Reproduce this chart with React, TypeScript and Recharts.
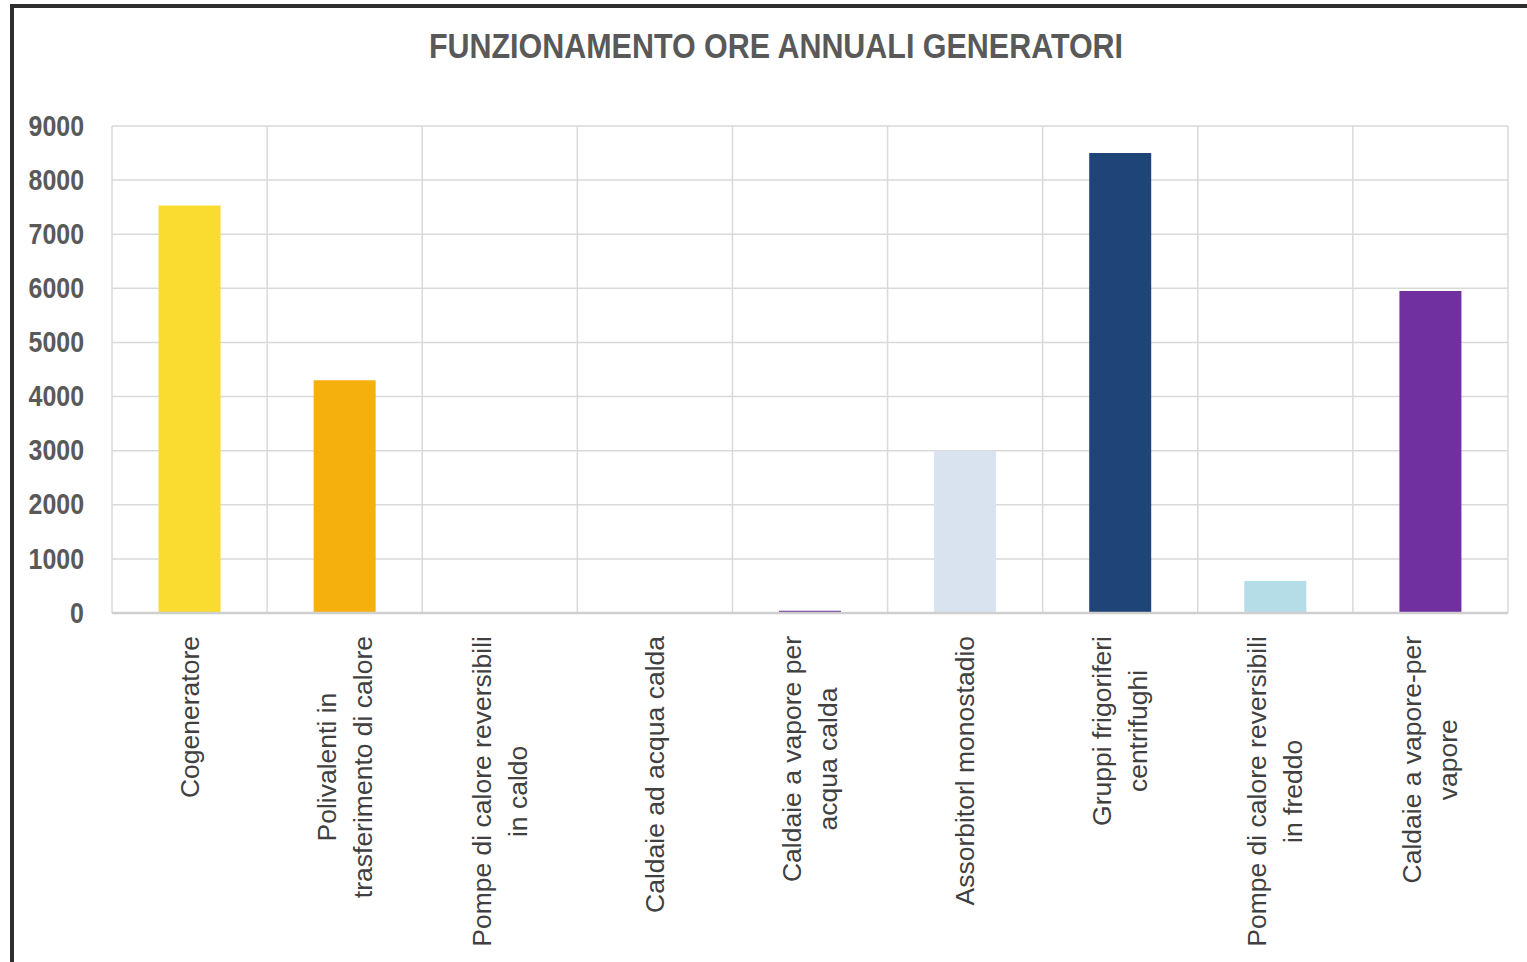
import React from 'react';
import { BarChart, Bar, XAxis, YAxis, CartesianGrid, Cell } from 'recharts';

const categories: string[] = [
  'Cogeneratore',
  'Polivalenti in\ntrasferimento di calore',
  'Pompe di calore reversibili\nin caldo',
  'Caldaie ad acqua calda',
  'Caldaie a vapore per\nacqua calda',
  'Assorbitorl monostadio',
  'Gruppi frigoriferi\ncentrifughi',
  'Pompe di calore reversibili\nin freddo',
  'Caldaie a vapore-per\nvapore',
];
const hours: number[] = [7530, 4300, 0, 0, 40, 3000, 8500, 590, 5950];
const barColors: string[] = ['#F9DC2F', '#F5B00E', '#7030A0', '#7030A0', '#6E3B9E', '#D9E3F0', '#1F4477', '#B5DDE8', '#7030A0'];
const yTicks: number[] = [0, 1000, 2000, 3000, 4000, 5000, 6000, 7000, 8000, 9000];
const title = 'FUNZIONAMENTO ORE ANNUALI GENERATORI';

const data = categories.map((name, i) => ({ name, value: hours[i] }));

const LABEL_FONT = '26.5px "Liberation Sans", Arial, sans-serif';
let ctx: CanvasRenderingContext2D | null = null;
function measure(t: string): number {
  if (!ctx) {
    const c = document.createElement('canvas');
    ctx = c.getContext('2d');
  }
  if (!ctx) return t.length * 13;
  ctx.font = LABEL_FONT;
  return ctx.measureText(t).width;
}

const XTick = (props: any) => {
  const { x, y, payload } = props;
  const lines: string[] = String(payload.value).split('\n');
  const maxW = Math.max(...lines.map(measure));
  const lh = 36;
  const n = lines.length;
  return (
    <g transform={`translate(${x},${y + 23}) rotate(-90)`}>
      {lines.map((l, i) => (
        <text
          key={i}
          x={-maxW / 2}
          y={(i - (n - 1) / 2) * lh}
          textAnchor="middle"
          dominantBaseline="central"
          fill="#404040"
          style={{ font: LABEL_FONT }}
        >
          {l}
        </text>
      ))}
    </g>
  );
};

const YTick = (props: any) => {
  const { x, y, payload } = props;
  return (
    <g transform={`translate(${x},${y}) scale(0.86,1)`}>
      <text
        x={0}
        y={0}
        textAnchor="end"
        dominantBaseline="central"
        fill="#595959"
        style={{ font: 'bold 29px "Liberation Sans", Arial, sans-serif' }}
      >
        {payload.value}
      </text>
    </g>
  );
};

export default function App() {
  const n = categories.length;
  return (
    <div style={{ position: 'absolute', left: 0, top: 0, width: 1527, height: 962, overflow: 'hidden', background: '#fff' }}>
      <div
        style={{
          position: 'absolute',
          left: 10,
          top: 4,
          width: 1560,
          height: 954,
          borderLeft: '4px solid #2e2e2e',
          borderTop: '4px solid #2e2e2e',
          borderBottom: '1px solid #c8c8c8',
        }}
      />
      <div
        style={{
          position: 'absolute',
          left: 0,
          top: 26,
          width: 1552,
          textAlign: 'center',
          font: 'bold 35px "Liberation Sans", Arial, sans-serif',
          color: '#595959',
          transform: 'scaleX(0.87)',
          transformOrigin: '776px 0',
        }}
      >
        {title}
      </div>
      <div style={{ position: 'absolute', left: 0, top: 0 }}>
        <BarChart width={1527} height={962} data={data} margin={{ top: 126, right: 19, left: 0, bottom: 0 }} barCategoryGap="30%">
          <CartesianGrid
            stroke="#d9d9d9"
            strokeWidth={1.5}
            verticalCoordinatesGenerator={({ offset }: any) => {
              const arr: number[] = [];
              for (let i = 0; i <= n; i++) arr.push(offset.left + (i * offset.width) / n);
              return arr;
            }}
          />
          <XAxis
            dataKey="name"
            interval={0}
            height={349}
            tickLine={false}
            tickSize={0}
            tickMargin={0}
            axisLine={{ stroke: '#cfcfcf', strokeWidth: 2.5 }}
            tick={<XTick />}
          />
          <YAxis
            width={112}
            domain={[0, 9000]}
            ticks={yTicks}
            interval={0}
            axisLine={false}
            tickLine={false}
            tickSize={0}
            tickMargin={28}
            tick={<YTick />}
          />
          <Bar dataKey="value" isAnimationActive={false}>
            {data.map((d, i) => (
              <Cell key={i} fill={barColors[i]} />
            ))}
          </Bar>
        </BarChart>
      </div>
    </div>
  );
}
